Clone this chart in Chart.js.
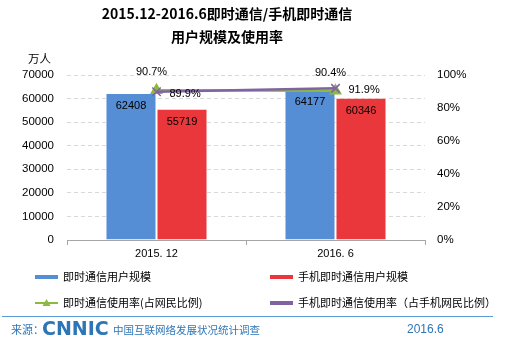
<!DOCTYPE html>
<html>
<head>
<meta charset="utf-8">
<script src="https://cdn.jsdelivr.net/npm/chart.js@4/dist/chart.umd.min.js"></script>
<style>
  html, body { margin: 0; padding: 0; background: #fff; }
</style>
</head>
<body>
<canvas id="myChart" width="519" height="348"></canvas>
<script>
// data ------------------------------------------------
const categories = ['2015. 12', '2016. 6'];
const imUsers = [62408, 64177];
const mobileImUsers = [55719, 60346];
const imRate = [0.907, 0.904];
const mobileImRate = [0.899, 0.919];
const seriesNames = ['即时通信用户规模', '手机即时通信用户规模', '即时通信使用率(占网民比例)', '手机即时通信使用率（占手机网民比例）'];
const leftTicks = [0, 70000, 10000];
const rightTicks = [0, 1, 0.2];

const colors = {blue: '#558ed5', red: '#e9373b', green: '#8cb940', purple: '#8064a2', footer: '#2e75b6'};
const numFont = '"Liberation Sans", Arial, sans-serif';
const cjkFont = '"Noto Sans CJK SC", sans-serif';

// labels on bars and points
const valueLabels = {
  id: 'valueLabels',
  afterDatasetsDraw(chart) {
    const ctx = chart.ctx;
    ctx.save();
    ctx.font = '11px ' + numFont;
    ctx.fillStyle = '#000';
    ctx.textBaseline = 'middle';
    chart.data.datasets.forEach((ds, i) => {
      chart.getDatasetMeta(i).data.forEach((el, j) => {
        const v = ds.data[j];
        if (ds.type === 'bar') {
          ctx.textAlign = 'center';
          ctx.fillText(v, el.x, el.y + 13);
        } else if (i === 2) {
          ctx.textAlign = 'center';
          ctx.fillText((v * 100).toFixed(1) + '%', el.x - 5, el.y - 18);
        } else {
          ctx.textAlign = 'left';
          ctx.fillText((v * 100).toFixed(1) + '%', el.x + 13, el.y + 2);
        }
      });
    });
    ctx.restore();
  }
};

// title, unit, legend, footer
const decor = {
  id: 'decor',
  afterDraw(chart) {
    const ctx = chart.ctx;
    const ds = chart.data.datasets;
    ctx.save();
    ctx.fillStyle = '#000';
    ctx.textBaseline = 'middle';
    ctx.textAlign = 'center';
    ctx.font = 'bold 14px ' + cjkFont;
    ctx.fillText('2015.12-2016.6即时通信/手机即时通信', 227, 14);
    ctx.fillText('用户规模及使用率', 227, 37);

    ctx.textAlign = 'left';
    ctx.font = '11.5px ' + cjkFont;
    ctx.fillText('万人', 28, 59);

    // legend
    const spots = [[35, 277], [270, 277], [35, 303], [270, 303]];
    ctx.font = '11px ' + cjkFont;
    spots.forEach((p, i) => {
      const c = i < 2 ? ds[i].backgroundColor : ds[i].borderColor;
      ctx.strokeStyle = c;
      ctx.lineWidth = i === 2 ? 2 : 4;
      ctx.beginPath();
      ctx.moveTo(p[0], p[1]);
      ctx.lineTo(p[0] + 23, p[1]);
      ctx.stroke();
      if (i === 2) {
        ctx.fillStyle = c;
        ctx.beginPath();
        ctx.moveTo(p[0] + 11.5, p[1] - 4);
        ctx.lineTo(p[0] + 15.5, p[1] + 3);
        ctx.lineTo(p[0] + 7.5, p[1] + 3);
        ctx.closePath();
        ctx.fill();
      }
      ctx.fillStyle = '#000';
      ctx.fillText(ds[i].label, p[0] + 28, p[1]);
    });

    // footer
    ctx.strokeStyle = '#5b9bd5';
    ctx.lineWidth = 1;
    ctx.beginPath();
    ctx.moveTo(2, 316.5);
    ctx.lineTo(493, 316.5);
    ctx.stroke();
    ctx.fillStyle = colors.footer;
    ctx.font = '11px ' + cjkFont;
    ctx.fillText('来源：', 11, 330);
    ctx.font = 'bold 19px "DejaVu Sans", sans-serif';
    ctx.fillText('CNNIC', 42, 330);
    ctx.font = '10.5px ' + cjkFont;
    ctx.fillText('中国互联网络发展状况统计调查', 113, 330);
    ctx.font = '12px ' + numFont;
    ctx.fillText('2016.6', 407, 330);
    ctx.restore();
  }
};

const ctx = document.getElementById('myChart').getContext('2d');
const myChart = new Chart(ctx, {
  data: {
    labels: categories,
    datasets: [
      {type: 'bar', label: seriesNames[0], data: imUsers, backgroundColor: colors.blue,
        borderColor: 'rgba(255,255,255,0.5)', borderWidth: 1, yAxisID: 'y', order: 2},
      {type: 'bar', label: seriesNames[1], data: mobileImUsers, backgroundColor: colors.red,
        borderColor: 'rgba(255,255,255,0.5)', borderWidth: 1, yAxisID: 'y', order: 2},
      {type: 'line', label: seriesNames[2], data: imRate, borderColor: colors.green,
        backgroundColor: colors.green, borderWidth: 2.5, pointStyle: 'triangle', pointRadius: 5,
        yAxisID: 'y1', order: 1},
      {type: 'line', label: seriesNames[3], data: mobileImRate, borderColor: colors.purple,
        backgroundColor: colors.purple, borderWidth: 2.5, pointStyle: 'crossRot', pointRadius: 6,
        pointBorderWidth: 1.5, yAxisID: 'y1', order: 0}
    ]
  },
  options: {
    responsive: false,
    animation: false,
    devicePixelRatio: 1,
    datasets: {bar: {categoryPercentage: 0.57, barPercentage: 1}},
    layout: {padding: {top: 75, bottom: 88, left: 0, right: 0}},
    plugins: {legend: {display: false}, title: {display: false}, tooltip: {enabled: false}},
    scales: {
      x: {
        grid: {drawOnChartArea: false, drawTicks: true, tickLength: 5, color: '#a6a6a6', offset: true},
        border: {color: '#a6a6a6'},
        ticks: {color: '#000', padding: 2, font: {size: 11, family: numFont}},
        afterFit: s => { s.height = 20; }
      },
      y: {
        position: 'left', min: leftTicks[0], max: leftTicks[1],
        ticks: {stepSize: leftTicks[2], padding: 13, color: '#000', font: {size: 11.5, family: numFont},
          callback: v => String(v)},
        grid: {color: '#d9d9d9', drawTicks: false},
        border: {display: false, dash: [4, 3]},
        afterFit: s => { s.width = 67; }
      },
      y1: {
        position: 'right', min: rightTicks[0], max: rightTicks[1],
        ticks: {stepSize: rightTicks[2], padding: 12, color: '#000', font: {size: 11.5, family: numFont},
          callback: v => Math.round(v * 100) + '%'},
        grid: {drawOnChartArea: false, drawTicks: false},
        border: {display: false},
        afterFit: s => { s.width = 94; }
      }
    }
  },
  plugins: [valueLabels, decor]
});
</script>
</body>
</html>
